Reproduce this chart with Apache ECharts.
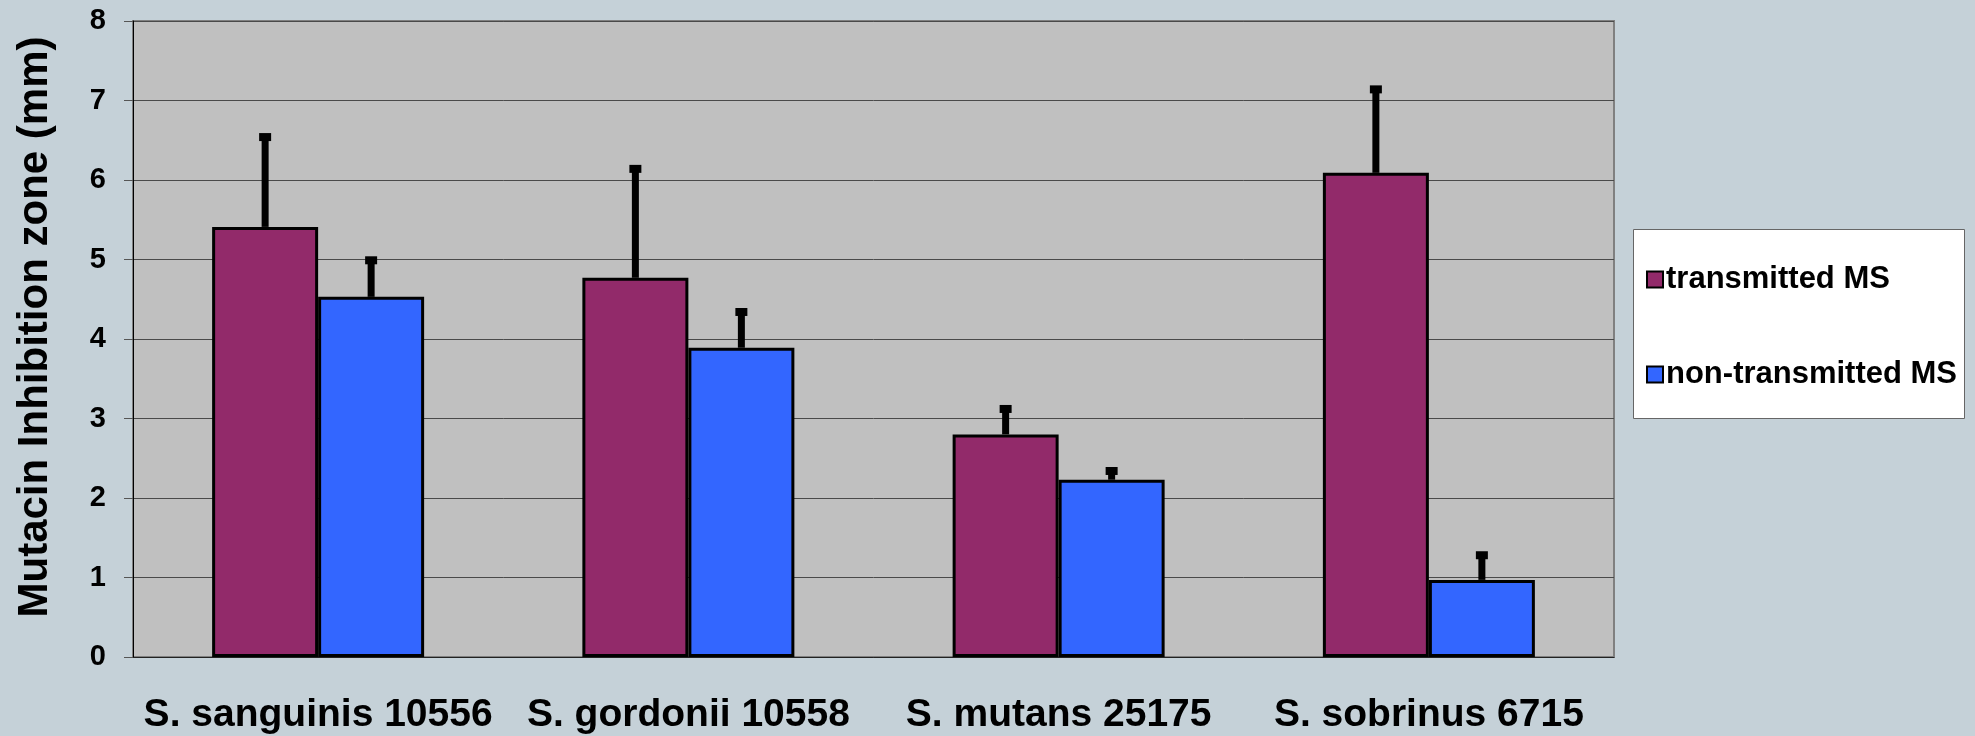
<!DOCTYPE html>
<html>
<head>
<meta charset="utf-8">
<script src="https://cdn.jsdelivr.net/npm/echarts@6/dist/echarts.min.js"></script>
<style>
html, body { margin: 0; padding: 0; background: #C5D1D8; }
#myChart { width: 1975px; height: 736px; }
</style>
</head>
<body>
<div id="myChart"></div>
<script>
// strains on the x axis
var categories = ['S. sanguinis 10556', 'S. gordonii 10558', 'S. mutans 25175', 'S. sobrinus 6715'];
var seriesNames = ['transmitted MS', 'non-transmitted MS'];
// mean inhibition zone (mm)
var transmitted = [5.41, 4.77, 2.80, 6.09];
var nonTransmitted = [4.53, 3.89, 2.23, 0.97];
// upper error (mm)
var errTransmitted = [1.13, 1.37, 0.32, 1.05];
var errNonTransmitted = [0.46, 0.45, 0.11, 0.31];
var yTicks = [0, 1, 2, 3, 4, 5, 6, 7, 8];

var FONT = "'Liberation Sans', Arial, Helvetica, sans-serif";
var BAR_W = 106;

function errData(means, errs) {
  var out = [];
  for (var i = 0; i < means.length; i++) {
    out.push([i, means[i], errs[i]]);
  }
  return out;
}

function errRender(offset) {
  return function (params, api) {
    var cat = api.value(0);
    var mean = api.value(1);
    var err = api.value(2);
    var base = api.coord([cat, mean]);
    var top = api.coord([cat, mean + err]);
    var x = base[0] + offset;
    return {
      type: 'group',
      children: [
        {
          type: 'rect',
          shape: { x: x - 3.5, y: top[1], width: 7, height: base[1] - top[1] },
          style: { fill: '#000' }
        },
        {
          type: 'rect',
          shape: { x: x - 6, y: top[1] - 4, width: 12, height: 8 },
          style: { fill: '#000' }
        }
      ]
    };
  };
}

var myChart = echarts.init(document.getElementById('myChart'));
var option = {
  backgroundColor: '#C5D1D8',
  animation: false,
  textStyle: { fontFamily: FONT },
  grid: {
    left: 133, right: 361, top: 21, bottom: 79,
    outerBoundsMode: 'none',
    containLabel: false,
    show: true,
    backgroundColor: '#C0C0C0',
    borderColor: '#808080',
    borderWidth: 2
  },
  graphic: [{
    type: 'rect',
    left: 1633, top: 229, z: -1,
    shape: { width: 331, height: 189 },
    style: { fill: '#fff', stroke: '#666', lineWidth: 1 }
  }],
  legend: {
    orient: 'vertical',
    left: 1641, top: 259,
    itemGap: 64,
    icon: 'rect',
    itemWidth: 16, itemHeight: 16,
    itemStyle: { borderColor: '#000', borderWidth: 2 },
    textStyle: { fontSize: 31, fontWeight: 'bold', color: '#000', fontFamily: FONT, padding: [0, 0, 0, -2] },
    data: seriesNames
  },
  xAxis: {
    type: 'category',
    data: categories,
    axisLine: { lineStyle: { color: '#222', width: 1 } },
    axisTick: { length: 12, lineStyle: { color: '#222' } },
    axisLabel: { margin: 39, fontSize: 39, fontWeight: 'bold', color: '#000', fontFamily: FONT, interval: 0 }
  },
  yAxis: {
    type: 'value',
    min: yTicks[0], max: yTicks[yTicks.length - 1], interval: 1,
    name: 'Mutacin Inhibition zone (mm)',
    nameLocation: 'middle',
    nameGap: 77,
    nameTextStyle: { fontSize: 42, fontWeight: 'bold', color: '#000', fontFamily: FONT, padding: [0, 0, 0, 24] },
    axisLine: { show: true, lineStyle: { color: '#000', width: 1 } },
    axisTick: { show: true, length: 9, lineStyle: { color: '#555' } },
    axisLabel: { margin: 27, fontSize: 29, fontWeight: 'bold', color: '#000', fontFamily: FONT },
    splitLine: { lineStyle: { color: '#4a4a4a', width: 1 } }
  },
  series: [
    {
      name: seriesNames[0],
      type: 'bar',
      barWidth: BAR_W,
      barGap: '0%',
      data: transmitted,
      itemStyle: { color: '#922A6A', borderColor: '#000', borderWidth: 3 }
    },
    {
      name: seriesNames[1],
      type: 'bar',
      barWidth: BAR_W,
      barGap: '0%',
      data: nonTransmitted,
      itemStyle: { color: '#3366FF', borderColor: '#000', borderWidth: 3 }
    },
    {
      type: 'custom',
      renderItem: errRender(-BAR_W / 2),
      data: errData(transmitted, errTransmitted),
      z: 3
    },
    {
      type: 'custom',
      renderItem: errRender(BAR_W / 2),
      data: errData(nonTransmitted, errNonTransmitted),
      z: 3
    }
  ]
};
myChart.setOption(option, true);
</script>
</body>
</html>
